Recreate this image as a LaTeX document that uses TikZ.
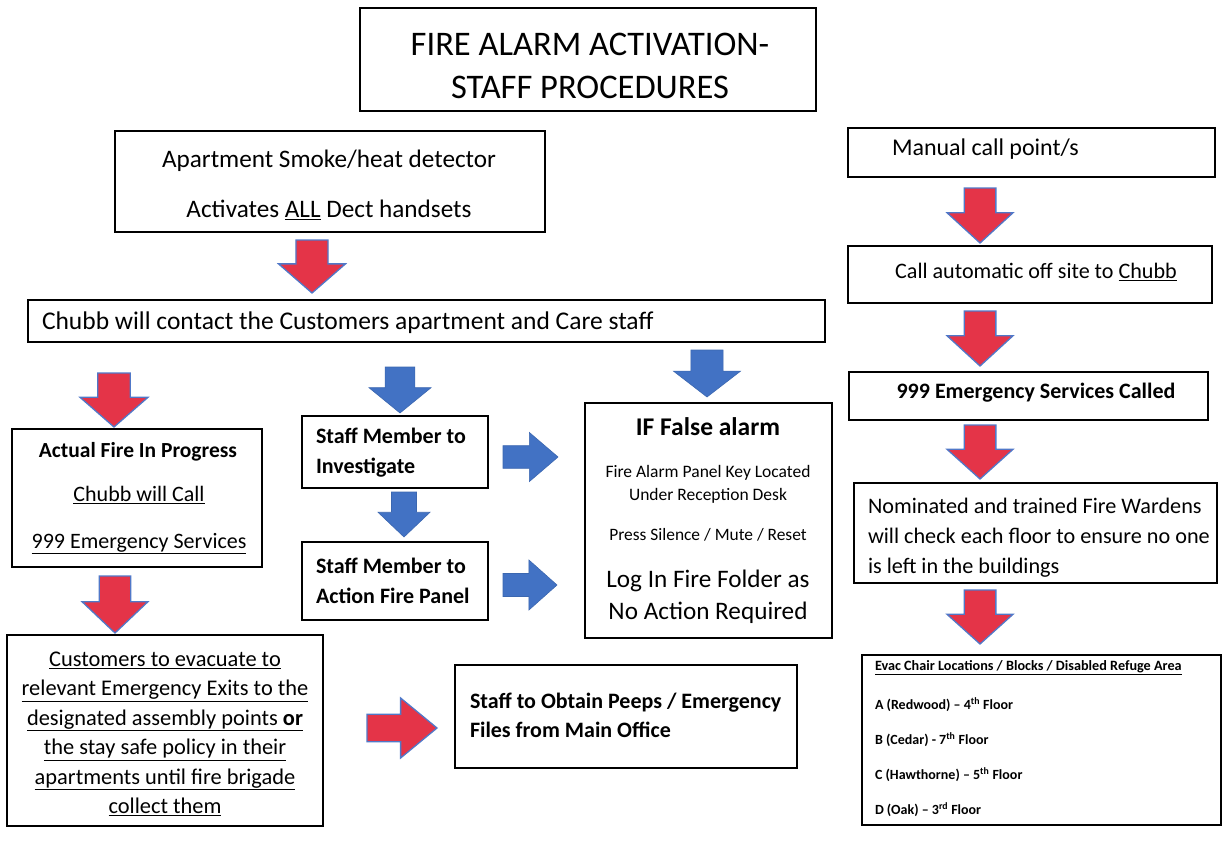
\documentclass[tikz,border=0pt]{standalone}
\usepackage{fontspec}
\setmainfont{Carlito}
\definecolor{arrred}{RGB}{228,52,72}
\definecolor{arrblue}{RGB}{66,114,196}
\definecolor{arredge}{RGB}{80,120,200}
\newcommand\fsz[2]{\fontsize{#1}{#2}\selectfont}
\begin{document}
\begin{tikzpicture}[x=1pt,y=-1pt,
  box/.style={draw, line width=1.6pt, inner sep=0pt, outer sep=0pt, fill=white, anchor=north west},
  txt/.style={inner sep=0pt, outer sep=0pt, text=black},
  redarr/.style={fill=arrred, draw=arredge, line width=1.3pt, line join=miter},
  bluarr/.style={fill=arrblue, draw=arrblue!90!black, line width=0.6pt, line join=miter},
  darr/.pic={\path[pic actions] (-0.24,0) -- (0.24,0) -- (0.24,0.45) -- (0.5,0.45) -- (0,1) -- (-0.5,0.45) -- (-0.24,0.45) -- cycle;},
  rarr/.pic={\path[pic actions] (0,-0.23) -- (0.48,-0.23) -- (0.48,-0.5) -- (1,0) -- (0.48,0.5) -- (0.48,0.23) -- (0,0.23) -- cycle;}
]
\useasboundingbox[fill=white] (0,0) rectangle (1222,840);

% ---- boxes ----
\node[box, minimum width=456pt, minimum height=103pt] (title) at (360,8) {};
\node[box, minimum width=430pt, minimum height=101pt] (apt) at (115,131) {};
\node[box, minimum width=797pt, minimum height=42pt] (chubb) at (28,300) {};
\node[box, minimum width=250pt, minimum height=138pt] (fire) at (12,429) {};
\node[box, minimum width=186pt, minimum height=72pt] (inv) at (302,416) {};
\node[box, minimum width=186pt, minimum height=78pt] (act) at (302,542) {};
\node[box, minimum width=247pt, minimum height=235pt] (false) at (585,403) {};
\node[box, minimum width=316pt, minimum height=191pt] (cust) at (7,635) {};
\node[box, minimum width=342pt, minimum height=103pt] (obtain) at (455,665) {};
\node[box, minimum width=367pt, minimum height=49pt] (manual) at (848,128) {};
\node[box, minimum width=364pt, minimum height=57pt] (callauto) at (848,246) {};
\node[box, minimum width=359pt, minimum height=48pt] (ess) at (849,372) {};
\node[box, minimum width=363pt, minimum height=100pt] (nom) at (854,483) {};
\node[box, minimum width=359pt, minimum height=170pt] (evac) at (862,655) {};

% ---- block arrows ----
\pic[redarr, xscale=67, yscale=53] (a1) at (312,240) {darr};
\pic[redarr, xscale=68, yscale=54] (a2) at (114,373) {darr};
\pic[redarr, xscale=66, yscale=57] (a3) at (115,576) {darr};
\pic[bluarr, xscale=62, yscale=46] (b1) at (400,367) {darr};
\pic[bluarr, xscale=52, yscale=45] (b2) at (404,492) {darr};
\pic[bluarr, xscale=67, yscale=47] (b3) at (707,350) {darr};
\pic[bluarr, xscale=55, yscale=49] (b4) at (503,457) {rarr};
\pic[bluarr, xscale=54, yscale=50] (b5) at (503,585) {rarr};
\pic[redarr, xscale=70, yscale=60] (a4) at (367,728) {rarr};
\pic[redarr, xscale=66, yscale=55] (a5) at (980,188) {darr};
\pic[redarr, xscale=66, yscale=55] (a6) at (980,311) {darr};
\pic[redarr, xscale=66, yscale=54] (a7) at (980,425) {darr};
\pic[redarr, xscale=66, yscale=54] (a8) at (980,590) {darr};

% ---- texts ----
\node[txt, align=center, font=\fsz{34.5}{43}] (ttitle) at (590,66) {FIRE ALARM ACTIVATION-\\STAFF PROCEDURES};
\node[txt, align=center, font=\fsz{25.2}{50}] (tapt) at (329,185) {Apartment Smoke/heat detector\\Activates \underline{ALL} Dect handsets};
\node[txt, anchor=mid west, font=\fsz{25.5}{30}] (tchubb) at (42,327) {Chubb will contact the Customers apartment and Care staff};
\node[txt, font=\fsz{21.5}{22}\bfseries] (tfire1) at (138,452) {Actual Fire In Progress};
\node[txt, align=center, font=\fsz{22}{47}] (tfire2) at (139,520) {\underline{Chubb will Call}\\\underline{999 Emergency Services}};
\node[txt, anchor=west, align=left, font=\fsz{22}{30}\bfseries] (tinv) at (316,453) {Staff Member to\\Investigate};
\node[txt, anchor=west, align=left, font=\fsz{22}{30}\bfseries] (tact) at (316,581) {Staff Member to\\Action Fire Panel};
\node[txt, font=\fsz{25.5}{25}\bfseries] (tf1) at (708,427) {IF False alarm};
\node[txt, align=center, font=\fsz{17.5}{23}] (tf2) at (708,484) {Fire Alarm Panel Key Located\\Under Reception Desk};
\node[txt, font=\fsz{17.4}{20}] (tf3) at (708,535) {Press Silence / Mute / Reset};
\node[txt, align=center, font=\fsz{25.2}{32}] (tf4) at (708,597) {Log In Fire Folder as\\No Action Required};
\node[txt, align=center, font=\fsz{22.4}{29.5}] (tcust) at (165,734) {\underline{Customers to evacuate to}\\\underline{relevant Emergency Exits to the}\\\underline{designated assembly points \textbf{or}}\\\underline{the stay safe policy in their}\\\underline{apartments until fire brigade}\\\underline{collect them}};
\node[txt, anchor=west, align=left, font=\fsz{22}{29}\bfseries] (tobt) at (470,715) {Staff to Obtain Peeps / Emergency\\Files from Main Office};
\node[txt, anchor=mid west, font=\fsz{24}{25}] (tman) at (892,153) {Manual call point/s};
\node[txt, font=\fsz{22.1}{25}] (tcall) at (1036,272) {Call automatic off site to \underline{Chubb}};
\node[txt, font=\fsz{22}{25}\bfseries] (tess) at (1036,393) {999 Emergency Services Called};
\node[txt, anchor=west, align=left, font=\fsz{22.2}{30}] (tnom) at (868,538) {Nominated and trained Fire Wardens\\will check each floor to ensure no one\\is left in the buildings};
\node[txt, anchor=mid west, font=\fsz{14.2}{16}\bfseries] (tev1) at (875,668) {\underline{Evac Chair Locations / Blocks / Disabled Refuge Area}};
\node[txt, anchor=west, align=left, font=\fsz{14}{35}\bfseries] (tev2) at (875,757) {A (Redwood) -- 4\textsuperscript{th} Floor\\B (Cedar) - 7\textsuperscript{th} Floor\\C (Hawthorne) -- 5\textsuperscript{th} Floor\\D (Oak) -- 3\textsuperscript{rd} Floor};
\end{tikzpicture}
\end{document}
